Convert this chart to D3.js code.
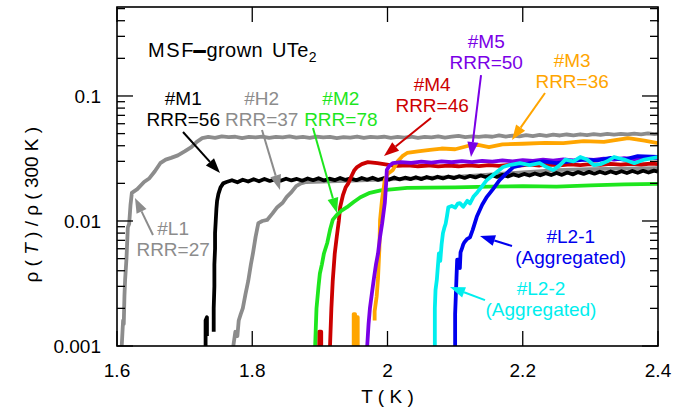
<!DOCTYPE html>
<html>
<head>
<script src="https://cdnjs.cloudflare.com/ajax/libs/d3/7.8.5/d3.min.js"></script>
<style>
  body { margin: 0; background: #fff; }
  text { font-family: "Liberation Sans", Arial, Helvetica, sans-serif; }
</style>
</head>
<body>
<svg></svg>
<script>
// axis ticks
var xTicks = [1.6, 1.8, 2.0, 2.2, 2.4];
var xTickLabels = ["1.6", "1.8", "2", "2.2", "2.4"];
var yTicks = [0.001, 0.01, 0.1];
var yTickLabels = ["0.001", "0.01", "0.1"];

// samples: [T (K), rho(T)/rho(300 K)], null = gap
var sampleL1 = [[1.607,0.001],[1.609,0.0016],[1.610,0.0015],[1.611,0.0025],[1.612,0.0034],[1.614,0.005],[1.616,0.0089],[1.618,0.0095],[1.620,0.0135],[1.622,0.0168],
  [1.630,0.018],[1.640,0.0205],[1.648,0.022],[1.656,0.025],[1.664,0.029],[1.672,0.031],[1.680,0.032],[1.690,0.0335],[1.700,0.036],[1.710,0.039],[1.718,0.043],[1.726,0.046],
  [1.735,0.0470],[1.745,0.0462],[1.755,0.0475],[1.765,0.0468],[1.775,0.0472],[1.785,0.0460],[1.795,0.0470],[1.805,0.0466],[1.815,0.0474],[1.825,0.0463],[1.835,0.0471],
  [1.845,0.0467],[1.855,0.0476],[1.865,0.0464],[1.875,0.0470],[1.885,0.0462],[1.895,0.0473],[1.905,0.0466],[1.915,0.0470],[1.925,0.0461],[1.935,0.0469],[1.945,0.0465],
  [1.955,0.0474],[1.965,0.0463],[1.975,0.0470],[1.985,0.0466],[1.995,0.0472],[2.005,0.0463],[2.015,0.0470],[2.025,0.0465],[2.035,0.0472],[2.045,0.0462],[2.055,0.0471],
  [2.065,0.0467],[2.075,0.0476],[2.085,0.0464],[2.095,0.0472],[2.105,0.0480],[2.115,0.0468],[2.125,0.0476],[2.135,0.0470],[2.145,0.0478],[2.155,0.0472],[2.165,0.0484],
  [2.175,0.0474],[2.185,0.0482],[2.195,0.0476],[2.205,0.0486],[2.215,0.0478],[2.225,0.0488],[2.235,0.0480],[2.245,0.0490],[2.255,0.0483],[2.265,0.0492],[2.275,0.0485],
  [2.285,0.0494],[2.295,0.0486],[2.305,0.0495],[2.315,0.0488],[2.325,0.0497],[2.335,0.0490],[2.345,0.0498],[2.355,0.0492],[2.365,0.0500],[2.375,0.0494],[2.385,0.0503],
  [2.395,0.0496],[2.400,0.0500]];

var sampleH2 = [[1.772,0.001],[1.775,0.0013],[1.778,0.0012],[1.780,0.0016],[1.783,0.0018],[1.786,0.002],[1.790,0.0026],[1.794,0.0033],[1.798,0.0045],[1.801,0.0055],
  [1.805,0.0075],[1.809,0.0096],[1.815,0.0100],[1.822,0.0102],[1.830,0.0115],[1.837,0.0129],[1.845,0.014],[1.851,0.0156],[1.858,0.017],[1.865,0.019],[1.872,0.020],
  [1.880,0.0205],[1.950,0.021],[2.000,0.0215],[2.050,0.022],[2.100,0.0225],[2.150,0.0235],[2.200,0.0245],[2.250,0.0255],[2.300,0.026],[2.350,0.0262],[2.400,0.0265]];

var sampleM1 = [[1.731,0.001],[1.731,0.0016],[1.733,0.0017],[1.733,0.0012], null,
  [1.743,0.0013],[1.743,0.002],[1.744,0.003],[1.744,0.0045],[1.745,0.006],[1.745,0.008],[1.746,0.010],[1.747,0.0125],[1.748,0.0145],[1.750,0.0165],[1.753,0.0185],[1.757,0.020],
  [1.762,0.0205],[1.770,0.0212],[1.778,0.0204],[1.786,0.0214],[1.794,0.0207],[1.802,0.0216],[1.810,0.0208],[1.818,0.0217],[1.826,0.0209],[1.834,0.0216],[1.842,0.0210],
  [1.850,0.0218],[1.858,0.0211],[1.866,0.0217],[1.874,0.0210],[1.882,0.0219],[1.890,0.0212],[1.898,0.0220],[1.906,0.0211],[1.914,0.0218],[1.922,0.0212],[1.930,0.0221],
  [1.938,0.0213],[1.946,0.0219],[1.954,0.0212],[1.962,0.0221],[1.970,0.0214],[1.978,0.0222],[1.986,0.0213],[1.994,0.0220],[2.002,0.0214],[2.010,0.0223],[2.018,0.0215],
  [2.026,0.0222],[2.034,0.0216],[2.042,0.0224],[2.050,0.0216],[2.058,0.0225],[2.066,0.0218],[2.074,0.0226],[2.082,0.0219],[2.090,0.0227],[2.098,0.0220],[2.106,0.0228],
  [2.114,0.0221],[2.122,0.0229],[2.130,0.0223],[2.138,0.0231],[2.146,0.0224],[2.154,0.0233],[2.162,0.0225],[2.170,0.0234],[2.178,0.0227],[2.186,0.0236],[2.194,0.0229],
  [2.202,0.0238],[2.210,0.0231],[2.218,0.0240],[2.226,0.0232],[2.234,0.0241],[2.242,0.0233],[2.250,0.0242],[2.258,0.0234],[2.266,0.0244],[2.274,0.0236],[2.282,0.0246],
  [2.290,0.0238],[2.298,0.0247],[2.306,0.0239],[2.314,0.0248],[2.322,0.0240],[2.330,0.0249],[2.338,0.0241],[2.346,0.0250],[2.354,0.0242],[2.362,0.0251],[2.370,0.0243],
  [2.378,0.0252],[2.386,0.0244],[2.394,0.0253],[2.400,0.0248]];

var sampleM4 = [[1.899,0.001],[1.899,0.0013],[1.902,0.0013],[1.902,0.001], null,
  [1.915,0.001],[1.917,0.002],[1.919,0.0033],[1.922,0.0055],[1.925,0.0075],[1.928,0.010],[1.930,0.0129],[1.934,0.016],[1.938,0.0185],[1.942,0.020],[1.947,0.023],
  [1.951,0.0255],[1.955,0.027],[1.962,0.0285],[1.971,0.0296],[1.985,0.029],[2.004,0.0280],[2.015,0.0276],[2.030,0.0279],[2.045,0.0274],[2.060,0.0278],[2.075,0.0273],
  [2.090,0.0277],[2.105,0.0274],[2.120,0.0279],[2.135,0.0275],[2.150,0.0280],[2.165,0.0276],[2.180,0.0281],[2.195,0.0277],[2.210,0.0282],[2.225,0.0278],[2.240,0.0283],
  [2.255,0.0279],[2.270,0.0284],[2.285,0.0280],[2.300,0.0285],[2.315,0.0281],[2.330,0.0286],[2.345,0.0282],[2.360,0.0287],[2.375,0.0283],[2.390,0.0288],[2.400,0.0285]];

var sampleM2 = [[1.893,0.001],[1.895,0.002],[1.898,0.003],[1.900,0.0038],[1.903,0.0045],[1.906,0.0055],[1.911,0.0067],[1.915,0.0085],[1.919,0.0102],[1.925,0.0112],
  [1.932,0.0121],[1.940,0.0129],[1.950,0.0142],[1.960,0.0155],[1.974,0.0168],[1.990,0.0176],[2.010,0.0180],[2.029,0.0184],[2.060,0.0185],[2.100,0.0186],[2.150,0.0188],
  [2.200,0.0190],[2.250,0.0188],[2.300,0.0193],[2.350,0.0196],[2.400,0.0198]];

var sampleM3 = [[1.950,0.001],[1.950,0.0018],[1.952,0.0018],[1.952,0.001], null,
  [1.955,0.001],[1.955,0.0017],[1.956,0.0017],[1.956,0.001], null,
  [1.981,0.0016],[1.981,0.0019],[1.984,0.0025],[1.986,0.0035],[1.988,0.006],[1.989,0.0102],[1.992,0.015],[1.996,0.0213],[2.001,0.024],[2.008,0.0256],[2.015,0.030],
  [2.022,0.033],[2.029,0.035],[2.045,0.036],[2.063,0.037],[2.080,0.038],[2.100,0.0375],[2.120,0.040],[2.134,0.0406],[2.150,0.039],[2.170,0.041],[2.200,0.0415],
  [2.233,0.0421],[2.260,0.042],[2.290,0.0435],[2.320,0.043],[2.356,0.046],[2.380,0.044],[2.400,0.042]];

var sampleM5 = [[1.970,0.001],[1.972,0.0015],[1.974,0.002],[1.977,0.00265],[1.980,0.0035],[1.983,0.0045],[1.986,0.0055],[1.989,0.0075],[1.992,0.0095],[1.996,0.0139],
  [1.998,0.020],[1.999,0.0256],[2.003,0.0278],[2.008,0.0290],[2.020,0.0296],[2.035,0.0292],[2.050,0.0298],[2.065,0.0293],[2.080,0.0300],[2.095,0.0295],[2.110,0.0301],
  [2.125,0.0296],[2.140,0.0303],[2.155,0.0298],[2.170,0.0305],[2.185,0.0300],[2.200,0.0307],[2.215,0.0302],[2.230,0.0309],[2.245,0.0304],[2.260,0.0311],[2.275,0.0306],
  [2.290,0.0313],[2.305,0.0308],[2.320,0.0315],[2.335,0.0310],[2.350,0.0318],[2.365,0.0313],[2.380,0.0320],[2.400,0.0318]];

var sampleL21 = [[2.100,0.001],[2.100,0.0018],[2.101,0.0025],[2.102,0.0035],[2.103,0.0049],[2.106,0.0049],[2.107,0.0042],[2.108,0.0056],[2.110,0.0060],[2.112,0.0065],
  [2.114,0.0068],[2.118,0.0072],[2.122,0.0074],[2.126,0.0085],[2.132,0.0108],[2.140,0.0135],[2.147,0.0156],[2.156,0.018],[2.166,0.0213],[2.176,0.024],[2.186,0.027],
  [2.198,0.028],[2.211,0.029],[2.230,0.030],[2.250,0.029],[2.270,0.030],[2.290,0.031],[2.310,0.0305],[2.330,0.032],[2.350,0.031],[2.370,0.033],[2.400,0.0325]];

var sampleL22 = [[2.070,0.001],[2.070,0.002],[2.071,0.0028],[2.073,0.0034],[2.074,0.004],[2.076,0.0055],[2.078,0.0048],[2.080,0.0065],[2.082,0.008],[2.084,0.0088],
  [2.086,0.0095],[2.088,0.011],[2.090,0.0129],[2.095,0.0132],[2.100,0.0128],[2.104,0.0138],[2.107,0.0139],[2.112,0.0130],[2.118,0.0145],[2.122,0.0138],[2.127,0.0156],
  [2.133,0.017],[2.140,0.019],[2.147,0.0213],[2.155,0.023],[2.163,0.025],[2.171,0.027],[2.180,0.028],[2.196,0.029],[2.210,0.028],[2.225,0.029],[2.235,0.027],[2.245,0.0256],
  [2.255,0.028],[2.263,0.031],[2.275,0.030],[2.285,0.0325],[2.295,0.031],[2.305,0.028],[2.315,0.0285],[2.325,0.030],[2.335,0.0325],[2.350,0.031],[2.365,0.029],
  [2.380,0.031],[2.400,0.0325]];

// draw order, back to front
var series = [
  { name: "L1", color: "#8c8c8c", values: sampleL1 },
  { name: "H2", color: "#8c8c8c", values: sampleH2 },
  { name: "M1", color: "#000000", values: sampleM1 },
  { name: "M4", color: "#cc0000", values: sampleM4 },
  { name: "M2", color: "#1ee61e", values: sampleM2 },
  { name: "M3", color: "#ffa500", values: sampleM3 },
  { name: "M5", color: "#7a00e6", values: sampleM5 },
  { name: "L2-1", color: "#0000ee", values: sampleL21 },
  { name: "L2-2", color: "#00eeee", values: sampleL22 }
];

// labels: anchor of first line baseline in data units, arrow from -> to
var labels = [
  { lines: ["#M1", "RRR=56"], color: "#000000", at: [1.698, 0.085], from: [1.6976, 0.0515], to: [1.7523, 0.0242] },
  { lines: ["#H2", "RRR=37"], color: "#8c8c8c", at: [1.814, 0.085], from: [1.8144, 0.0534], to: [1.841, 0.0177] },
  { lines: ["#M2", "RRR=78"], color: "#1ee61e", at: [1.931, 0.085], from: [1.8898, 0.0555], to: [1.9253, 0.0116] },
  { lines: ["#M4", "RRR=46"], color: "#cc0000", at: [2.066, 0.11], from: [2.0643, 0.0667], to: [1.9948, 0.0331] },
  { lines: ["#M5", "RRR=50"], color: "#7a00e6", at: [2.146, 0.242], from: [2.1383, 0.147], to: [2.1235, 0.0325] },
  { lines: ["#M3", "RRR=36"], color: "#ffa500", at: [2.273, 0.17], from: [2.2329, 0.1057], to: [2.1841, 0.0445] },
  { lines: ["#L1", "RRR=27"], color: "#8c8c8c", at: [1.683, 0.0077], from: [1.6532, 0.00773], to: [1.6266, 0.0153] },
  { lines: ["#L2-1", "(Aggregated)"], color: "#0000ee", at: [2.271, 0.0067], from: [2.1841, 0.00631], to: [2.1368, 0.00759] },
  { lines: ["#L2-2", "(Aggregated)"], color: "#00eeee", at: [2.227, 0.00256], from: [2.1442, 0.00233], to: [2.0924, 0.00296] }
];

var W = 690, H = 416;
var margin = { top: 7, right: 32, bottom: 70, left: 117 };
var width = W - margin.left - margin.right;
var height = H - margin.top - margin.bottom;

var svg = d3.select("svg").attr("width", W).attr("height", H);
var g = svg.append("g").attr("transform", "translate(" + margin.left + "," + margin.top + ")");

var x = d3.scaleLinear().domain([1.6, 2.4]).range([0, width]);
var y = d3.scaleLog().domain([0.001, 0.515]).range([height, 0]);

g.append("clipPath").attr("id", "clip")
  .append("rect").attr("width", width).attr("height", height);

// curves
var line = d3.line()
  .defined(function(d) { return d != null; })
  .x(function(d) { return x(d[0]); })
  .y(function(d) { return y(d[1]); });

g.append("g").attr("clip-path", "url(#clip)")
  .selectAll("path")
  .data(series)
  .enter().append("path")
  .attr("d", function(d) { return line(d.values); })
  .attr("fill", "none")
  .attr("stroke", function(d) { return d.color; })
  .attr("stroke-width", 3.8)
  .attr("stroke-linejoin", "round");

// ticks, inward on all four sides
var minor = [];
[0.001, 0.01, 0.1].forEach(function(dec) {
  for (var k = 2; k <= 9; k++) {
    var v = dec * k;
    if (v <= y.domain()[1]) minor.push(v);
  }
});

var ax = g.append("g").attr("stroke", "#000").attr("stroke-width", 1.3);
xTicks.forEach(function(t) {
  ax.append("line").attr("x1", x(t)).attr("x2", x(t)).attr("y1", height).attr("y2", height - 15);
  ax.append("line").attr("x1", x(t)).attr("x2", x(t)).attr("y1", 0).attr("y2", 15);
});
yTicks.forEach(function(t) {
  ax.append("line").attr("x1", 0).attr("x2", 16).attr("y1", y(t)).attr("y2", y(t));
  ax.append("line").attr("x1", width).attr("x2", width - 16).attr("y1", y(t)).attr("y2", y(t));
});
minor.forEach(function(t) {
  ax.append("line").attr("x1", 0).attr("x2", 8).attr("y1", y(t)).attr("y2", y(t));
  ax.append("line").attr("x1", width).attr("x2", width - 8).attr("y1", y(t)).attr("y2", y(t));
});

g.append("rect").attr("width", width).attr("height", height)
  .attr("fill", "none").attr("stroke", "#000").attr("stroke-width", 1.6);

// tick labels
g.selectAll(".xl").data(xTicks).enter().append("text")
  .attr("x", function(d) { return x(d); })
  .attr("y", height + 31)
  .attr("text-anchor", "middle")
  .attr("font-size", 19)
  .text(function(d, i) { return xTickLabels[i]; });

g.selectAll(".yl").data(yTicks).enter().append("text")
  .attr("x", -16)
  .attr("y", function(d) { return y(d) + 7; })
  .attr("text-anchor", "end")
  .attr("font-size", 19)
  .text(function(d, i) { return yTickLabels[i]; });

// axis titles
g.append("text")
  .attr("x", x(2.0))
  .attr("y", height + 57)
  .attr("text-anchor", "middle")
  .attr("font-size", 19)
  .attr("xml:space", "preserve")
  .text("T ( K )");

var yt = svg.append("text")
  .attr("transform", "translate(38," + (margin.top + y(0.0135)) + ") rotate(-90)")
  .attr("text-anchor", "middle")
  .attr("font-size", 19);
yt.append("tspan").text("ρ ( ");
yt.append("tspan").attr("font-style", "italic").text("T");
yt.append("tspan").text(" ) / ρ ( 300 K )");

// sample title
var tt = g.append("text")
  .attr("x", x(1.6458))
  .attr("y", y(0.205))
  .attr("font-size", 20)
  .attr("letter-spacing", 0.4);
tt.append("tspan").attr("letter-spacing", 1.6).text("MSF");
tt.append("tspan").attr("dx", -1).attr("stroke", "#000").attr("stroke-width", 1.6).text("–");
tt.append("tspan").attr("dx", 1).text("grown");
tt.append("tspan").attr("dx", 9).text("UTe");
tt.append("tspan").attr("font-size", 14).attr("dy", 5).text("2");

// labels with arrows
function arrow(sel, p0, p1, color) {
  var x0 = x(p0[0]), y0 = y(p0[1]), x1 = x(p1[0]), y1 = y(p1[1]);
  var a = Math.atan2(y1 - y0, x1 - x0);
  var L = 15, w = 5.5;
  var bx = x1 - L * Math.cos(a), by = y1 - L * Math.sin(a);
  sel.append("line")
    .attr("x1", x0).attr("y1", y0).attr("x2", bx).attr("y2", by)
    .attr("stroke", color).attr("stroke-width", 2);
  sel.append("polygon")
    .attr("points", [[x1, y1], [bx - w * Math.sin(a), by + w * Math.cos(a)], [bx + w * Math.sin(a), by - w * Math.cos(a)]].join(" "))
    .attr("fill", color);
}

labels.forEach(function(l) {
  var t = g.append("text")
    .attr("x", x(l.at[0]))
    .attr("y", y(l.at[1]))
    .attr("text-anchor", "middle")
    .attr("font-size", 19)
    .attr("fill", l.color);
  l.lines.forEach(function(s, i) {
    t.append("tspan").attr("x", x(l.at[0])).attr("dy", i === 0 ? 0 : 21).text(s);
  });
  arrow(g, l.from, l.to, l.color);
});
</script>
</body>
</html>
